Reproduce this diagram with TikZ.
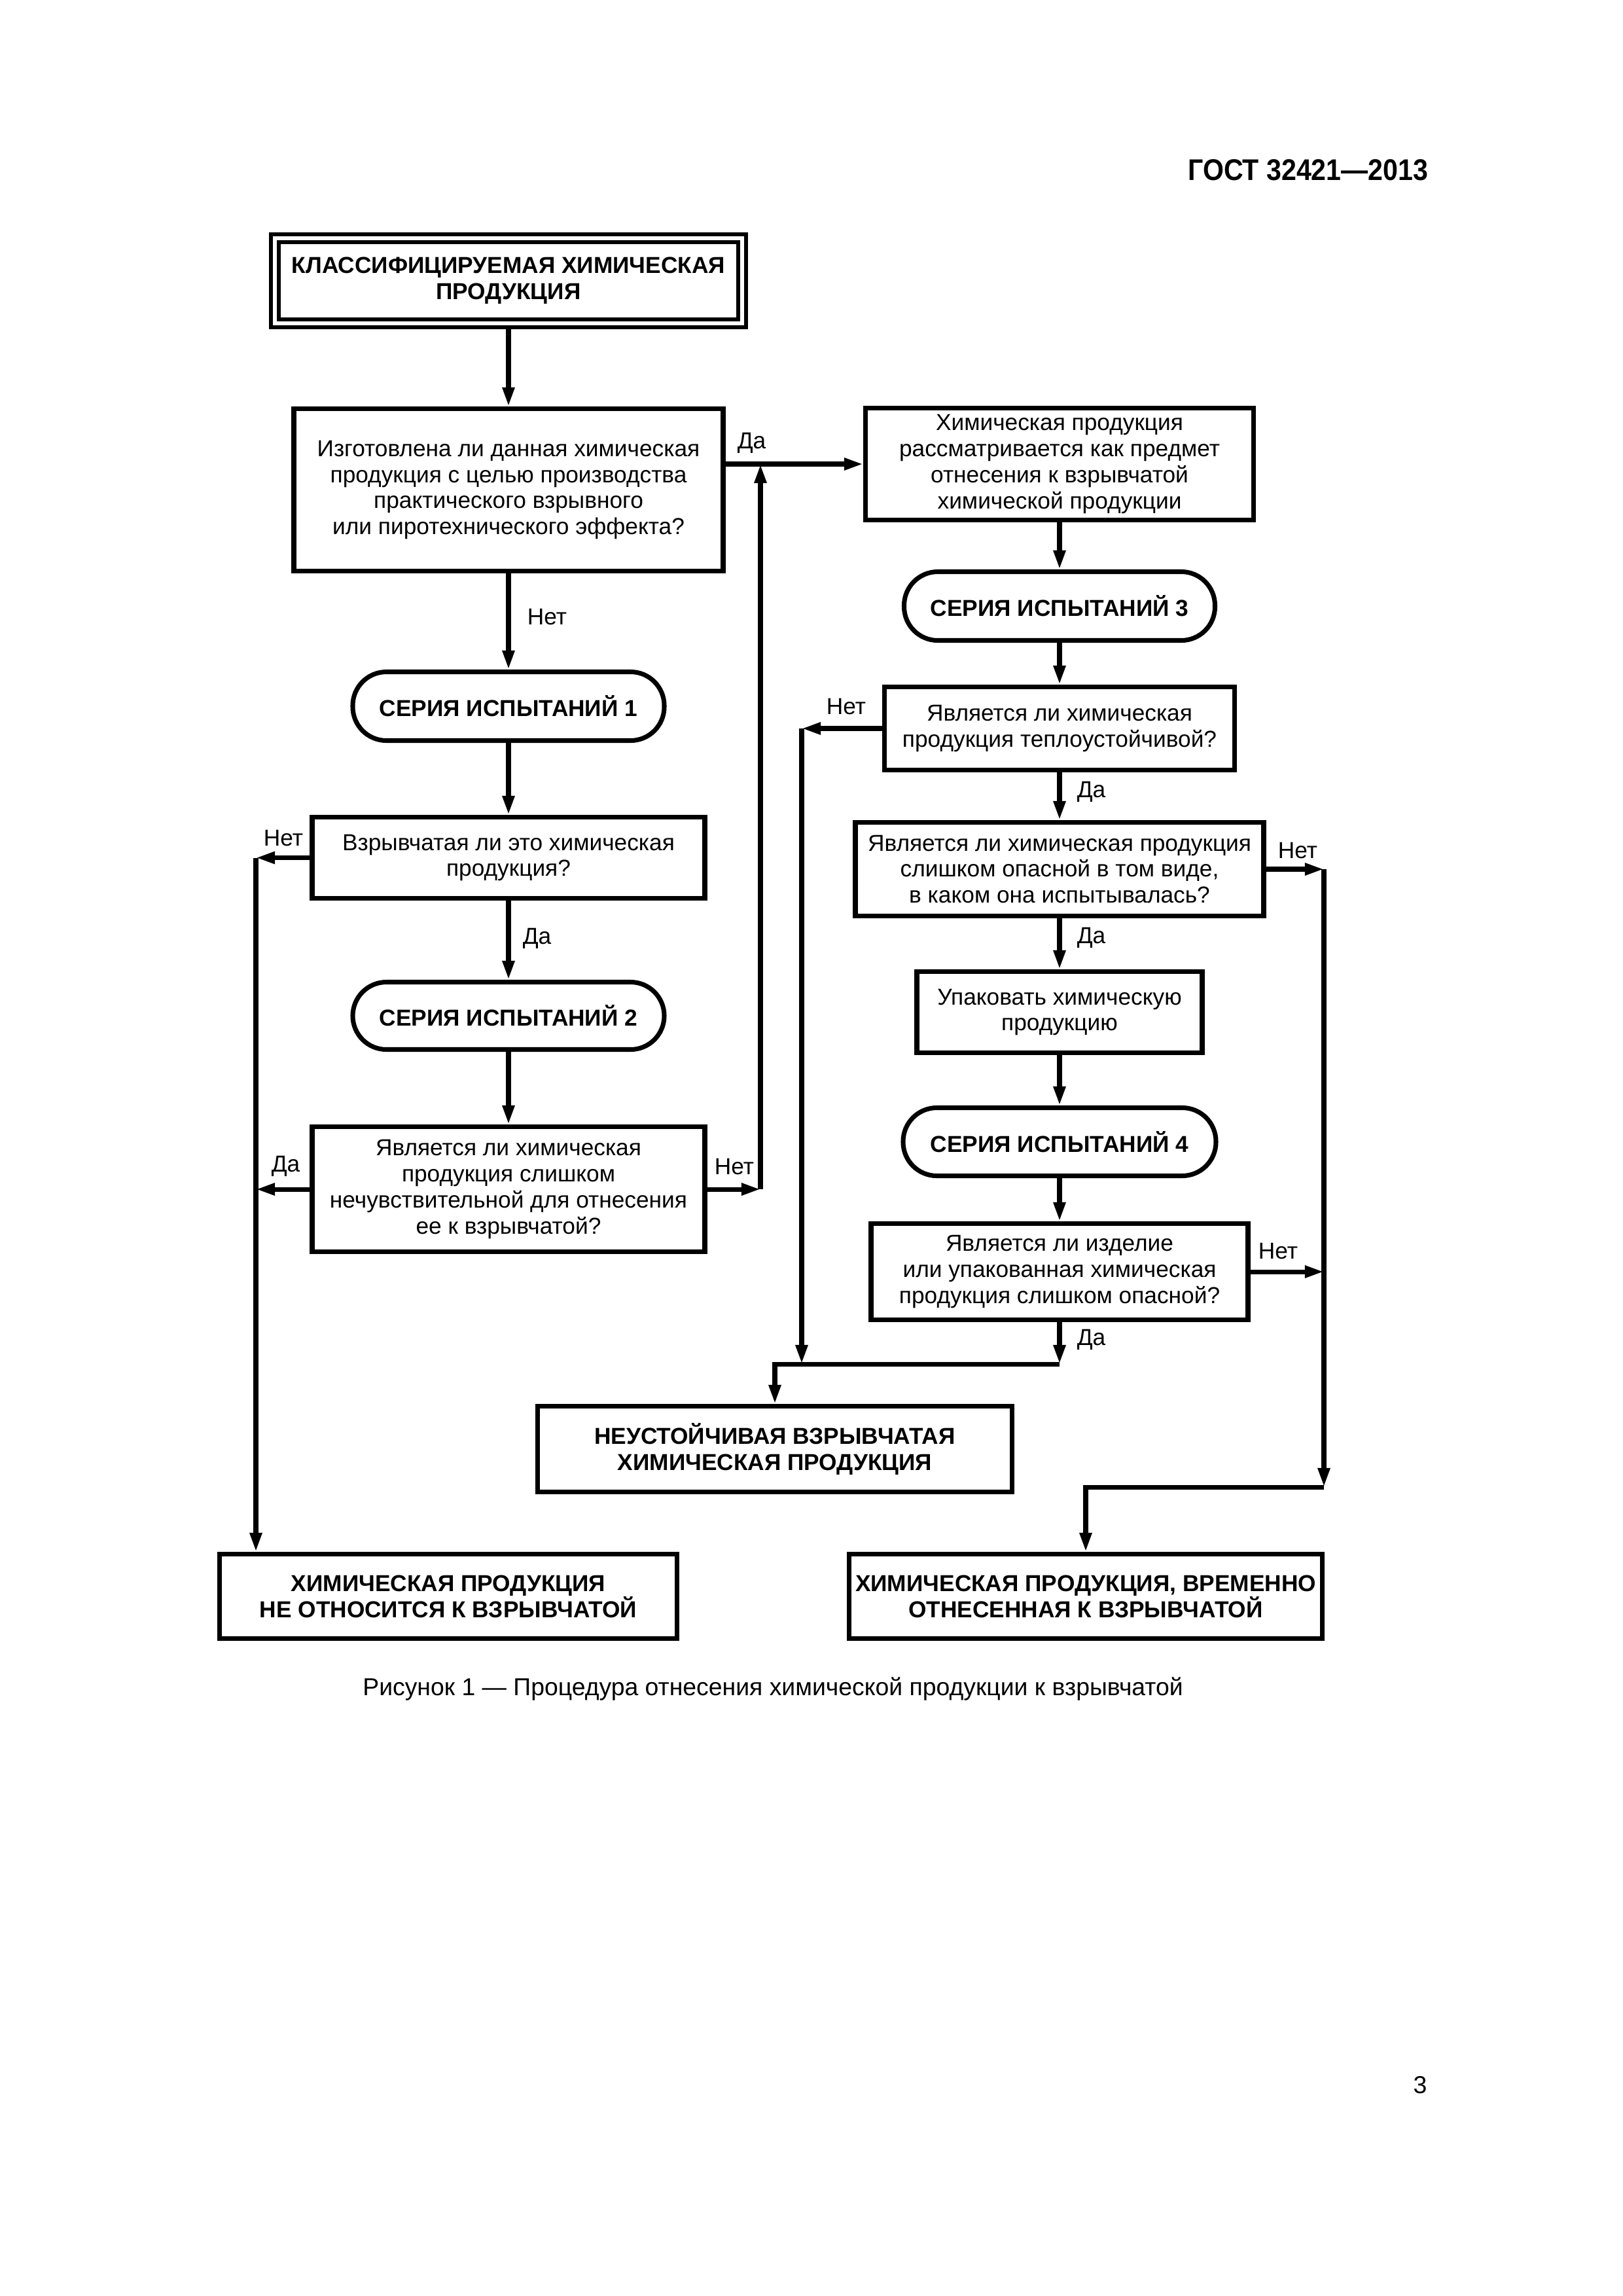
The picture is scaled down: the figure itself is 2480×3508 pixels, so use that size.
\documentclass[tikz,border=0pt]{standalone}
\usepackage{fontspec}
\setmainfont{Liberation Sans}
\newfontfamily\hdrfont[FakeStretch=0.9]{Liberation Sans}
\usetikzlibrary{arrows.meta}
\newdimen\pxu
\pxu=0.24093pt
\newcommand\bodyfs{\fontsize{8.5}{9.6}\selectfont}
\begin{document}
\begin{tikzpicture}[x=0.24093pt,y=-0.24093pt,
  lw/.style={line width=1.7pt},
  sz/.style 2 args={minimum width=#1*\pxu, minimum height=#2*\pxu},
  box/.style={draw, lw, align=center, inner sep=0pt, font=\bodyfs},
  bbox/.style={box, font=\bodyfs\bfseries},
  dbox/.style={draw, double, line width=1.6pt, double distance=1.3pt, align=center, inner sep=0pt, font=\bodyfs\bfseries},
  serie/.style={draw, lw, rounded corners=12.4pt, inner sep=0pt, font=\bodyfs\bfseries},
  arr/.style={lw, -{Triangle[length=7pt,width=4.2pt]}},
  lbl/.style={inner sep=0pt, font=\bodyfs},
]
\path[fill=white] (0,0) rectangle (2480,3508);
\useasboundingbox (0,0) rectangle (2480,3508);

\node[anchor=east, inner sep=0pt, font=\hdrfont\bfseries\fontsize{11}{13}\selectfont] (hdr) at (2183,260) {ГОСТ 32421—2013};

% left column
\node[dbox, sz={714}{130}] (start) at (777,429) {КЛАССИФИЦИРУЕМАЯ ХИМИЧЕСКАЯ\\ПРОДУКЦИЯ};
\node[box, sz={656}{248}] (q1) at (777,748.5) {Изготовлена ли данная химическая\\продукция с целью производства\\практического взрывного\\или пиротехнического эффекта?};
\node[serie, sz={476}{105}] (s1) at (777,1079) {СЕРИЯ ИСПЫТАНИЙ 1};
\node[box, sz={600}{124}] (qa) at (777,1310.5) {Взрывчатая ли это химическая\\продукция?};
\node[serie, sz={476}{103}] (s2) at (777,1552) {СЕРИЯ ИСПЫТАНИЙ 2};
\node[box, sz={600}{191}] (qb) at (777,1817) {Является ли химическая\\продукция слишком\\нечувствительной для отнесения\\ее к взрывчатой?};

% right column
\node[box, sz={593}{171}] (r1) at (1619,709) {Химическая продукция\\рассматривается как предмет\\отнесения к взрывчатой\\химической продукции};
\node[serie, sz={475}{105}] (s3) at (1619,926) {СЕРИЯ ИСПЫТАНИЙ 3};
\node[box, sz={535}{127}] (q2) at (1619,1113) {Является ли химическая\\продукция теплоустойчивой?};
\node[box, sz={624}{143}] (q3) at (1619,1328) {Является ли химическая продукция\\слишком опасной в том виде,\\в каком она испытывалась?};
\node[box, sz={436}{124}] (pk) at (1619,1546.5) {Упаковать химическую\\продукцию};
\node[serie, sz={478}{104}] (s4) at (1619,1744.5) {СЕРИЯ ИСПЫТАНИЙ 4};
\node[box, sz={576}{147}] (q4) at (1619,1943) {Является ли изделие\\или упакованная химическая\\продукция слишком опасной?};

% results
\node[bbox, sz={725}{131}] (ru) at (1184,2214) {НЕУСТОЙЧИВАЯ ВЗРЫВЧАТАЯ\\ХИМИЧЕСКАЯ ПРОДУКЦИЯ};
\node[bbox, sz={699}{129}] (rl) at (685,2439) {ХИМИЧЕСКАЯ ПРОДУКЦИЯ\\НЕ ОТНОСИТСЯ К ВЗРЫВЧАТОЙ};
\node[bbox, sz={723}{129}] (rr) at (1659,2439) {ХИМИЧЕСКАЯ ПРОДУКЦИЯ, ВРЕМЕННО\\ОТНЕСЕННАЯ К ВЗРЫВЧАТОЙ};

% labels
\node[lbl, anchor=west] (l1) at (1126,677) {Да};
\node[lbl, anchor=west] (l2) at (805,943) {Нет};
\node[lbl, anchor=west] (l3) at (402,1281) {Нет};
\node[lbl, anchor=west] (l4) at (798,1434) {Да};
\node[lbl, anchor=west] (l5) at (414,1782) {Да};
\node[lbl, anchor=west] (l6) at (1091,1783) {Нет};
\node[lbl, anchor=west] (l7) at (1262,1080) {Нет};
\node[lbl, anchor=west] (l8) at (1645,1210) {Да};
\node[lbl, anchor=west] (l9) at (1952,1300) {Нет};
\node[lbl, anchor=west] (l10) at (1645,1433) {Да};
\node[lbl, anchor=west] (l11) at (1922,1912) {Нет};
\node[lbl, anchor=west] (l12) at (1645,2047) {Да};

% junction coordinates
\coordinate (lvA) at (391,1310.5);
\coordinate (yj) at (1162,709);
\coordinate (hv) at (1225,1113);
\coordinate (jl) at (1184,2084);
\coordinate (jr) at (1619,2084);
\coordinate (rv) at (2023,1328);
\coordinate (jb) at (2023,2272);

% connectors, left column
\draw[arr] (start.south) -- (q1.north);
\draw[arr] (q1.south) -- (s1.north);
\draw[arr] (s1.south) -- (qa.north);
\draw[arr] (qa.south) -- (s2.north);
\draw[arr] (s2.south) -- (qb.north);
\draw[arr] (qa.west) -- (lvA);
\draw[arr] (lvA) -- (lvA |- rl.north);
\draw[arr] (qb.west) -- (qb.west -| lvA);
\draw[arr] (qb.east) -- (qb.east -| yj);
\draw[arr] (qb.east -| yj) -- (yj);
\draw[arr] (q1.east |- r1.west) -- (r1.west);

% connectors, right column
\draw[arr] (r1.south) -- (s3.north);
\draw[arr] (s3.south) -- (q2.north);
\draw[arr] (q2.south) -- (q3.north);
\draw[arr] (q3.south) -- (pk.north);
\draw[arr] (pk.south) -- (s4.north);
\draw[arr] (s4.south) -- (q4.north);
\draw[arr] (q2.west) -- (hv);
\draw[arr] (hv) -- (hv |- jl);
\draw[arr] (q4.south) -- (jr);
\draw[arr] (jr) -- (jl) -- (ru.north);
\draw[arr] (q3.east) -- (rv);
\draw[arr] (q4.east) -- (q4.east -| rv);
\draw[arr] (rv) -- (jb);
\draw[arr] (jb) -- (jb -| rr.north) -- (rr.north);

\node[inner sep=0pt, font=\fontsize{9}{11}\selectfont] (cap) at (1181,2580) {Рисунок 1 — Процедура отнесения химической продукции к взрывчатой};
\node[inner sep=0pt, font=\fontsize{9}{11}\selectfont] (pg) at (2170,3186) {3};
\end{tikzpicture}
\end{document}
